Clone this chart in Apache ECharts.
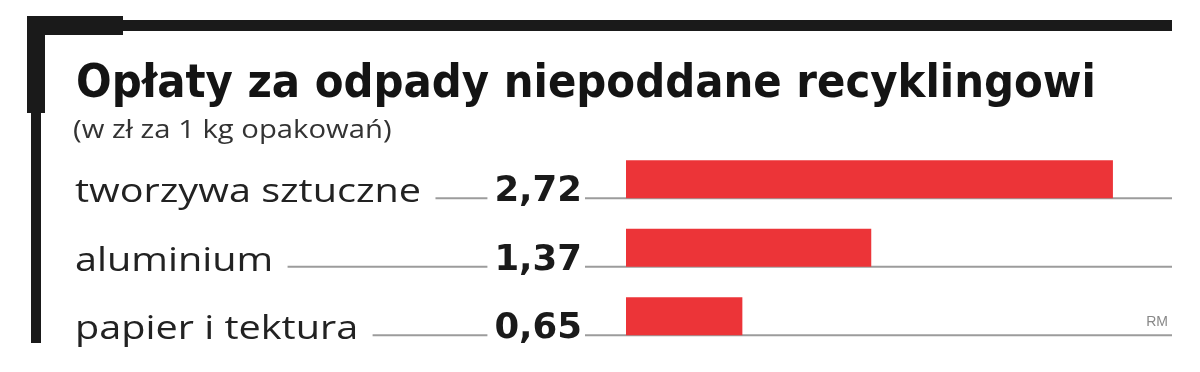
<!DOCTYPE html>
<html><head><meta charset="utf-8">
<script src="https://cdn.jsdelivr.net/npm/echarts@6/dist/echarts.min.js"></script>
<style>html,body{margin:0;padding:0;background:#fff}#c{width:1200px;height:372px}</style>
</head><body><div id="c"></div>
<script>
const titleText = 'Opłaty za odpady niepoddane recyklingowi';
const subtitleText = '(w zł za 1 kg opakowań)';
const categories = ['tworzywa sztuczne', 'aluminium', 'papier i tektura'];
const values = [2.72, 1.37, 0.65];
const sourceText = 'RM';

const BAR_W = 38;
const LEFT = 75;
const TEXT_SCALE = 1.2;
const fmt = v => v.toFixed(2).replace('.', ',');

const chart = echarts.init(document.getElementById('c'));
chart.setOption({
  animation: false,
  backgroundColor: '#fff',
  title: [
    { text: titleText, left: 71, top: 56,
      textStyle: { fontFamily: 'DejaVu Sans Condensed, sans-serif', fontWeight: 'bold', fontSize: 46.6, color: '#141414' } }
  ],
  grid: { left: 626, top: 145, width: 546, height: 205.5, containLabel: false },
  xAxis: { type: 'value', min: 0, max: 3.05, show: false },
  yAxis: { type: 'category', data: categories, inverse: true, show: false },
  series: [
    {
      type: 'custom', z: 1, clip: false,
      data: categories.map((c, i) => [0, i]),
      encode: { x: 0, y: 1 },
      renderItem: (params, api) => {
        const idx = api.value(1);
        const c = api.coord([0, idx]);
        const cs = params.coordSys;
        const y = c[1] + BAR_W / 2;
        return {
          type: 'group',
          children: [
            { type: 'line', shape: { x1: LEFT, y1: y, x2: cs.x + cs.width, y2: y },
              style: { stroke: '#9c9c9c', lineWidth: 2 } },
            { type: 'text', x: LEFT, y: c[1] + 13.5, scaleX: TEXT_SCALE, scaleY: 1,
              style: { text: categories[idx], fill: '#222', font: '33px "Open Sans", sans-serif',
                align: 'left', verticalAlign: 'middle',
                backgroundColor: '#fff', padding: [0, 12, 0, 0] } }
          ]
        };
      }
    },
    {
      type: 'bar', z: 2, data: values, barWidth: BAR_W,
      itemStyle: { color: '#ec3438' },
      label: { show: true, position: 'left', distance: 41, offset: [0, 13],
        formatter: p => fmt(p.value),
        fontFamily: 'DejaVu Sans, sans-serif', fontWeight: 'bold', fontSize: 35.5, color: '#1a1a1a',
        backgroundColor: '#fff', padding: [0, 3, 0, 7] }
    }
  ],
  graphic: [
    { type: 'rect', shape: { x: 27, y: 16, width: 96, height: 19 }, style: { fill: '#1a1a1a' } },
    { type: 'rect', shape: { x: 27, y: 16, width: 18, height: 97 }, style: { fill: '#1a1a1a' } },
    { type: 'rect', shape: { x: 123, y: 20, width: 1049, height: 11 }, style: { fill: '#1a1a1a' } },
    { type: 'rect', shape: { x: 31, y: 113, width: 10, height: 230 }, style: { fill: '#1a1a1a' } },
    { type: 'text', x: 73, y: 118.5, scaleX: 1.17, scaleY: 1,
      style: { text: subtitleText, fill: '#333', font: '25px "Open Sans", sans-serif', align: 'left', verticalAlign: 'top' } },
    { type: 'text', x: 1168, y: 329, style: { text: sourceText, fill: '#888', font: '14px "Liberation Sans", sans-serif', align: 'right', verticalAlign: 'bottom' } }
  ]
});
</script></body></html>
